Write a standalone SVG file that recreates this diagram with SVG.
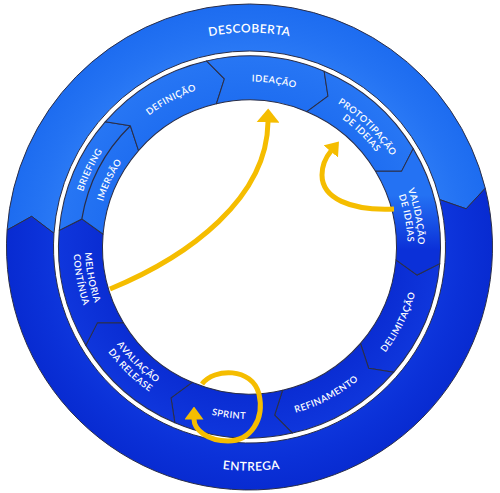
<svg xmlns="http://www.w3.org/2000/svg" width="500" height="493" viewBox="0 0 500 493">
<style>
.ring{stroke:#2a2e48;stroke-width:1;stroke-linejoin:round}
.lbl{font-family:Lato,"Open Sans","Liberation Sans",sans-serif;font-weight:600;font-size:9.3px;fill:#ffffff;letter-spacing:0.45px;text-anchor:middle}
.big{font-family:Lato,"Open Sans","Liberation Sans",sans-serif;font-weight:600;font-size:12px;fill:#ffffff;letter-spacing:0.45px;text-anchor:middle}
.arrow{fill:none;stroke:#f5bd00;stroke-width:5}
.split{fill:none;stroke:#2a2e48;stroke-width:1.2}
</style>
<defs>
<radialGradient id="gOutL" gradientUnits="userSpaceOnUse" cx="249.5" cy="247" r="243">
<stop offset="0.8" stop-color="#2a79f5"/><stop offset="0.88" stop-color="#2473f3"/><stop offset="1" stop-color="#1d6cf0"/>
</radialGradient>
<radialGradient id="gOutD" gradientUnits="userSpaceOnUse" cx="249.5" cy="247" r="243">
<stop offset="0.8" stop-color="#0e36dc"/><stop offset="0.88" stop-color="#0b31d8"/><stop offset="1" stop-color="#082bd1"/>
</radialGradient>
<radialGradient id="gInL" gradientUnits="userSpaceOnUse" cx="249.5" cy="247" r="191">
<stop offset="0.77" stop-color="#1f6ef1"/><stop offset="1" stop-color="#2776f4"/>
</radialGradient>
<radialGradient id="gInD" gradientUnits="userSpaceOnUse" cx="249.5" cy="247" r="191">
<stop offset="0.77" stop-color="#0a2dd3"/><stop offset="1" stop-color="#0f36dc"/>
</radialGradient>
<linearGradient id="gVal" gradientUnits="userSpaceOnUse" x1="422.43" y1="290.24" x2="394.1" y2="337.38">
<stop offset="0" stop-color="#2472f3"/><stop offset="1" stop-color="#0b30d8"/>
</linearGradient>
<path id="seg" d="M440.5,247 A191,191 0 0 1 404.02,359.27 L378.77,357.41 L368.43,333.40 A147,147 0 0 0 396.5,247 L418.98,260.34 Z"/>
<path id="t214" d="M97.83,95.33 A214.5,214.5 0 0 1 401.18,95.33"/>
<path id="t165" d="M132.47,129.97 A165.5,165.5 0 0 1 366.53,129.97"/>
<path id="t175" d="M125.40,122.90 A175.5,175.5 0 0 1 373.60,122.90"/>
<path id="t153" d="M140.96,138.46 A153.5,153.5 0 0 1 358.04,138.46"/>
<path id="t168" d="M130.35,127.85 A168.5,168.5 0 0 1 368.65,127.85"/>
<path id="t158" d="M137.78,135.28 A158,158 0 0 1 361.22,135.28"/>
<path id="b223" d="M91.32,405.18 A223.7,223.7 0 0 0 407.68,405.18"/>
<path id="b172" d="M127.88,368.62 A172,172 0 0 0 371.12,368.62"/>
<path id="b164" d="M133.18,363.32 A164.5,164.5 0 0 0 365.82,363.32"/>
<path id="b176" d="M125.05,371.45 A176,176 0 0 0 373.95,371.45"/>
<marker id="headL" markerUnits="userSpaceOnUse" viewBox="0 0 14 23" refX="0.5" refY="11.5" markerWidth="14" markerHeight="23" orient="auto">
<path d="M0,0 L14,11.5 L0,23 Z" fill="#f5bd00"/>
</marker>
<marker id="headS" markerUnits="userSpaceOnUse" viewBox="0 0 13 19" refX="0.5" refY="9.5" markerWidth="13" markerHeight="19" orient="auto">
<path d="M0,0 L13,9.5 L0,19 Z" fill="#f5bd00"/>
</marker>
</defs>

<g id="outer-ring">
<g id="descoberta">
<path class="ring" fill="url(#gOutL)" d="M7.09,230.05 A243,243 0 0 1 485.28,188.21 L466.16,208.80 L439.68,199.58 A196,196 0 0 0 53.98,233.33 L31.64,216.38 Z"/>
<text class="big"><textPath href="#t214" startOffset="50%">DESCOBERTA</textPath></text>
</g>
<g id="entrega">
<path class="ring" fill="url(#gOutD)" d="M485.28,188.21 A243,243 0 1 1 7.09,230.05 L31.64,216.38 L53.98,233.33 A196,196 0 1 0 439.68,199.58 L466.16,208.80 Z"/>
<text class="big" transform="rotate(-0.5 249.5 247)"><textPath href="#b223" startOffset="50%">ENTREGA</textPath></text>
</g>
</g>

<g id="inner-ring">
<g id="delimitacao">
<use href="#seg" class="ring" fill="url(#gInD)" transform="rotate(5 249.5 247)"/>
<text class="lbl" transform="rotate(-63.3 249.5 247)"><textPath href="#b172" startOffset="50%">DELIMITAÇÃO</textPath></text>
</g>
<g id="refinamento">
<use href="#seg" class="ring" fill="url(#gInD)" transform="rotate(41 249.5 247)"/>
<text class="lbl" transform="rotate(-27.5 249.5 247)"><textPath href="#b172" startOffset="50%">REFINAMENTO</textPath></text>
</g>
<g id="sprint">
<use href="#seg" class="ring" fill="url(#gInD)" transform="rotate(77 249.5 247)"/>
<text class="lbl" transform="rotate(7 249.5 247)"><textPath href="#b172" startOffset="50%">SPRINT</textPath></text>
</g>
<g id="avaliacao">
<use href="#seg" class="ring" fill="url(#gInD)" transform="rotate(113 249.5 247)"/>
<text class="lbl" transform="rotate(44 249.5 247)"><textPath href="#b164" startOffset="50%">AVALIAÇÃO</textPath></text>
<text class="lbl" transform="rotate(44 249.5 247)"><textPath href="#b176" startOffset="50%">DA RELEASE</textPath></text>
</g>
<g id="melhoria">
<use href="#seg" class="ring" fill="url(#gInD)" transform="rotate(149 249.5 247)"/>
<text class="lbl" transform="rotate(79 249.5 247)"><textPath href="#b164" startOffset="50%">MELHORIA</textPath></text>
<text class="lbl" transform="rotate(79 249.5 247)"><textPath href="#b176" startOffset="50%">CONTÍNUA</textPath></text>
</g>
<g id="briefing-imersao">
<use href="#seg" class="ring" fill="url(#gInL)" transform="rotate(185 249.5 247)"/>
<path class="split" d="M418.98,260.34 A170,170 0 0 1 378.77,357.41" transform="rotate(185 249.5 247)"/>
<text class="lbl" transform="rotate(-64.2 249.5 247)"><textPath href="#t175" startOffset="50%">BRIEFING</textPath></text>
<text class="lbl" transform="rotate(-64.4 249.5 247)"><textPath href="#t153" startOffset="50%">IMERSÃO</textPath></text>
</g>
<g id="definicao">
<use href="#seg" class="ring" fill="url(#gInL)" transform="rotate(221 249.5 247)"/>
<text class="lbl" transform="rotate(-28 249.5 247)"><textPath href="#t165" startOffset="50%">DEFINIÇÃO</textPath></text>
</g>
<g id="ideacao">
<use href="#seg" class="ring" fill="url(#gInL)" transform="rotate(257 249.5 247)"/>
<text class="lbl" transform="rotate(8.5 249.5 247)"><textPath href="#t165" startOffset="50%">IDEAÇÃO</textPath></text>
</g>
<g id="prototipacao">
<use href="#seg" class="ring" fill="url(#gInL)" transform="rotate(293 249.5 247)"/>
<text class="lbl" transform="rotate(44.5 249.5 247)"><textPath href="#t168" startOffset="50%">PROTOTIPAÇÃO</textPath></text>
<text class="lbl" transform="rotate(44.5 249.5 247)"><textPath href="#t158" startOffset="50%">DE IDEIAS</textPath></text>
</g>
<g id="validacao">
<use href="#seg" class="ring" fill="url(#gVal)" transform="rotate(329 249.5 247)"/>
<text class="lbl" transform="rotate(79.6 249.5 247)"><textPath href="#t168" startOffset="50%">VALIDAÇÃO</textPath></text>
<text class="lbl" transform="rotate(79.6 249.5 247)"><textPath href="#t158" startOffset="50%">DE IDEIAS</textPath></text>
</g>
</g>

<g id="connectors">
<path class="arrow" marker-end="url(#headL)" d="M110,289 C190,256 267,198 268,122"/>
<path class="arrow" marker-end="url(#headS)" d="M394,209 C350,211 322,198 322,175 C322,165 326,157 331,151"/>
<path class="arrow" marker-end="url(#headS)" d="M202,384 C214,368 252,367 259,394 C265,420 250,441 228,441 C208,441 194,430 194,419"/>
</g>
</svg>
